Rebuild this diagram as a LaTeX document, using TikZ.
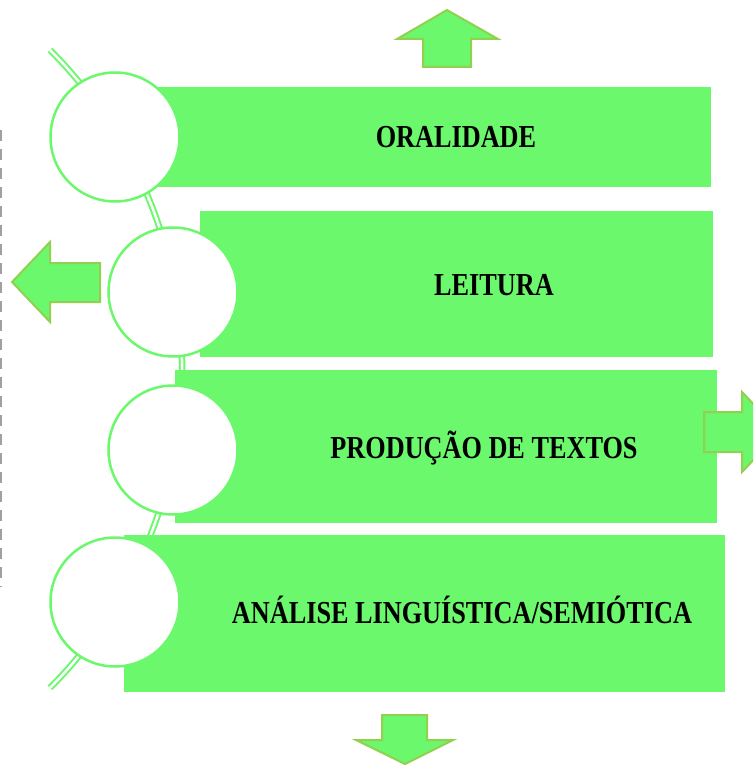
\documentclass[tikz,border=0pt]{standalone}
\usepackage{fontspec}
\newfontfamily\barfont{Liberation Serif}[FakeStretch=0.82]
\definecolor{barfill}{RGB}{108,248,108}
\definecolor{arrowedge}{RGB}{146,208,80}
\definecolor{dashgray}{RGB}{160,160,160}
\tikzset{
    bar/.style={fill=barfill,inner sep=0,anchor=north west},
    ring/.style={circle,draw=barfill,line width=2.5pt,fill=white,minimum size=129pt,inner sep=0},
    bartext/.style={anchor=base,inner sep=0,font=\barfont\bfseries\fontsize{32}{36}\selectfont},
    fatarrow/.style={fill=barfill,draw=arrowedge,line width=2pt,line join=miter}
}
\begin{document}
\begin{tikzpicture}[x=1pt,y=-1pt]
        \useasboundingbox (0,0) rectangle (753,767);
        \clip (0,0) rectangle (753,767);
        %% dashed guide
        \draw[dashgray,line width=1.5pt,dash pattern=on 11pt off 8pt] (1,130) -- (1,587);
        %% arc through the rings
        \draw[barfill,line width=2pt,double=white,double distance=2.5pt] (50,50) arc[start angle=-45,end angle=45,radius=451];
        %% bars
        \node[bar,minimum width=556pt,minimum height=100pt] (oral) at (155,87) {};
        \node[bar,minimum width=513pt,minimum height=146pt] (leit) at (200,211) {};
        \node[bar,minimum width=542pt,minimum height=153pt] (prod) at (175,370) {};
        \node[bar,minimum width=601pt,minimum height=157pt] (anal) at (124,535) {};
        %% rings
        \foreach \name/\x/\y in {c1/115/137,c2/173/292,c3/173/450,c4/115/602}
            \node[ring] (\name) at (\x,\y) {};
        %% texts
        \node[bartext] (toral) at (456,148) {ORALIDADE};
        \node[bartext] (tleit) at (494,295) {LEITURA};
        \node[bartext] (tprod) at (484,458) {PRODUÇÃO DE TEXTOS};
        \node[bartext] (tanal) at (462,623) {ANÁLISE LINGUÍSTICA/SEMIÓTICA};
        %% block arrows
        \draw[fatarrow] (447,10) -- (498,39) -- (471,39) -- (471,67) -- (423,67) -- (423,39) -- (397,39) -- cycle;
        \draw[fatarrow] (12,282) -- (50,242) -- (50,263) -- (100,263) -- (100,302) -- (50,302) -- (50,322) -- cycle;
        \draw[fatarrow] (780,432) -- (742,472) -- (742,452) -- (704,452) -- (704,412) -- (742,412) -- (742,392) -- cycle;
        \draw[fatarrow] (405,764) -- (453,740) -- (427,740) -- (427,715) -- (382,715) -- (382,740) -- (356,740) -- cycle;
    \end{tikzpicture}
\end{document}
